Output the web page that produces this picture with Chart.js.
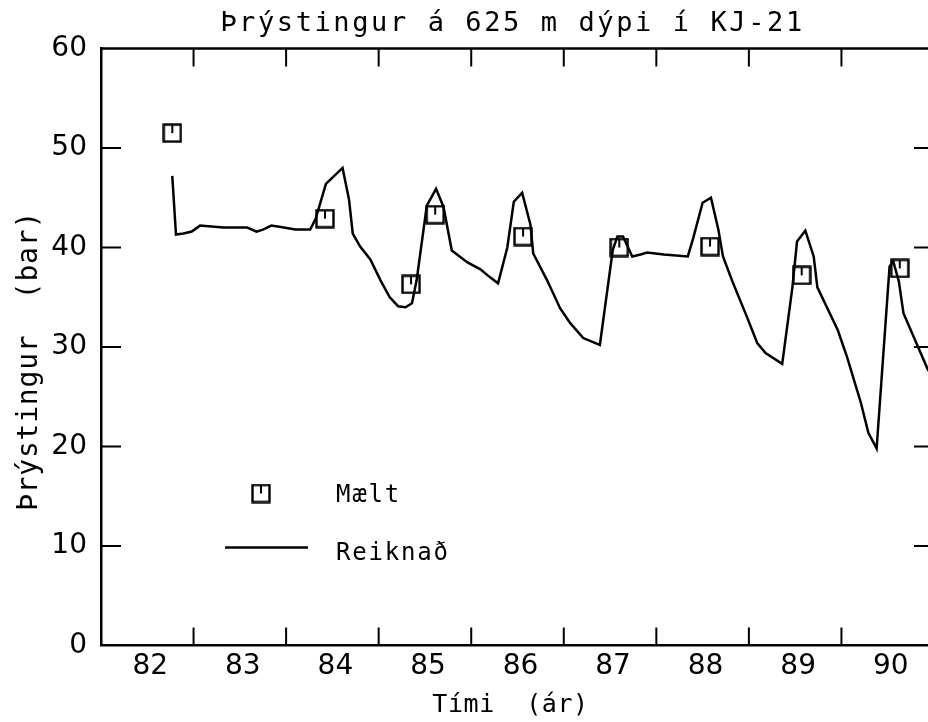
<!DOCTYPE html>
<html><head><meta charset="utf-8">
<script src="https://cdn.jsdelivr.net/npm/chart.js@4.4.0/dist/chart.umd.min.js"></script>
<style>html,body{margin:0;padding:0;overflow:hidden;background:#fff}canvas{display:block}</style>
</head><body>
<canvas id="c" width="928" height="722" style="width:928px;height:722px"></canvas>
<script>
const chartTitle = 'Þrýstingur á 625 m dýpi í KJ-21';
const xTitle = 'Tími  (ár)';
const yTitle = 'Þrýstingur  (bar)';
const seriesNames = ['Mælt', 'Reiknað'];
const yearLabels = ['82', '83', '84', '85', '86', '87', '88', '89', '90'];
const yearStarts = [82, 83, 84, 85, 86, 87, 88, 89, 90];
const yearBoundaries = [83, 84, 85, 86, 87, 88, 89, 90];
const yTickValues = [0, 10, 20, 30, 40, 50, 60];
const yTickLabels = ['0', '10', '20', '30', '40', '50', '60'];
const yMarkValues = [10, 20, 30, 40, 50];

const measYear = [82.77, 84.42, 85.35, 85.61, 86.56, 87.60, 88.58, 89.57, 90.63];
const measBar  = [51.5, 42.9, 36.3, 43.3, 41.1, 40.0, 40.1, 37.2, 37.9];

const calcYear = [82.77, 82.81, 82.89, 82.98, 83.07, 83.32, 83.58, 83.68, 83.75, 83.84, 83.91, 84.10, 84.26, 84.32, 84.43, 84.61, 84.68, 84.72, 84.80, 84.91, 85.02, 85.12, 85.21, 85.29, 85.36, 85.41, 85.52, 85.62, 85.70, 85.79, 85.96, 86.10, 86.19, 86.29, 86.39, 86.46, 86.55, 86.64, 86.67, 86.82, 86.96, 87.07, 87.21, 87.39, 87.53, 87.58, 87.64, 87.74, 87.83, 87.90, 88.08, 88.34, 88.40, 88.50, 88.59, 88.67, 88.72, 88.83, 88.98, 89.09, 89.18, 89.36, 89.47, 89.52, 89.61, 89.70, 89.74, 89.96, 90.06, 90.21, 90.29, 90.38, 90.52, 90.56, 90.62, 90.67, 90.94];
const calcBar  = [47.2, 41.3, 41.4, 41.6, 42.2, 42.0, 42.0, 41.6, 41.8, 42.2, 42.1, 41.8, 41.8, 42.9, 46.4, 48.0, 44.8, 41.4, 40.1, 38.8, 36.7, 35.0, 34.1, 34.0, 34.4, 36.7, 44.2, 45.9, 44.1, 39.7, 38.5, 37.8, 37.1, 36.4, 40.0, 44.6, 45.5, 42.3, 39.4, 36.7, 33.9, 32.4, 30.9, 30.2, 39.8, 41.1, 41.1, 39.1, 39.3, 39.5, 39.3, 39.1, 41.0, 44.5, 45.0, 41.8, 39.1, 36.4, 33.0, 30.4, 29.4, 28.3, 36.0, 40.6, 41.7, 39.1, 36.0, 31.7, 29.0, 24.4, 21.4, 19.8, 38.1, 38.6, 36.6, 33.4, 27.6];

const MONO = '"DejaVu Sans Mono", monospace';

// marker: hollow square with a small tick from the top edge
const marker = document.createElement('canvas');
marker.width = 20; marker.height = 20;
(function () {
  const m = marker.getContext('2d');
  m.strokeStyle = '#000'; m.lineWidth = 2.4;
  m.strokeRect(1.5, 1.5, 17, 17);
  m.lineWidth = 2;
  m.beginPath(); m.moveTo(10, 2); m.lineTo(10, 10); m.stroke();
})();

const framePlugin = {
  id: 'frame',
  afterLayout(chart) {
    // the plot frame continues 6px past the right edge of the picture
    const x = chart.scales.x, a = chart.chartArea;
    const right = chart.width + 6;
    x.right = right; x.width = right - x.left;
    a.right = right; a.width = right - a.left;
    x.configure();
  },
  afterDraw(chart) {
    const { ctx, chartArea: a, scales: { x, y } } = chart;
    const line = (x1, y1, x2, y2) => { ctx.beginPath(); ctx.moveTo(x1, y1); ctx.lineTo(x2, y2); ctx.stroke(); };
    ctx.save();
    ctx.strokeStyle = '#000';
    ctx.lineWidth = 2.5;
    ctx.beginPath(); ctx.moveTo(a.left, a.top); ctx.lineTo(a.right, a.top); ctx.lineTo(a.right, a.bottom); ctx.stroke();
    ctx.lineWidth = 2;
    yearBoundaries.forEach(v => {
      const px = x.getPixelForValue(v);
      line(px, a.bottom, px, a.bottom - 18);
      line(px, a.top, px, a.top + 18);
    });
    yMarkValues.forEach(v => {
      const py = y.getPixelForValue(v);
      line(a.left, py, a.left + 20, py);
      line(a.right, py, a.right - 20, py);
    });
    // legend
    ctx.drawImage(marker, a.left + 160 - 10, a.top + 445 - 10);
    ctx.lineWidth = 2.5;
    line(a.left + 124, a.top + 499, a.left + 207, a.top + 499);
    ctx.fillStyle = '#000';
    ctx.textAlign = 'left'; ctx.textBaseline = 'alphabetic';
    ctx.font = '24px ' + MONO;
    ctx.letterSpacing = '1.8px';
    ctx.fillText(seriesNames[0], a.left + 235, a.top + 453);
    ctx.fillText(seriesNames[1], a.left + 235, a.top + 511);
    // title
    ctx.textAlign = 'center';
    ctx.font = '27px ' + MONO;
    ctx.letterSpacing = '2.6px';
    ctx.fillText(chartTitle, (a.left + a.right) / 2 - 5, 31);
    // x title
    ctx.font = '25px ' + MONO;
    ctx.letterSpacing = '0.6px';
    ctx.fillText(xTitle, (a.left + a.right) / 2 - 7, 712);
    // y title
    ctx.translate(37, (a.top + a.bottom) / 2 + 14);
    ctx.rotate(-Math.PI / 2);
    ctx.font = '28px ' + MONO;
    ctx.letterSpacing = '0.8px';
    ctx.fillText(yTitle, 0, 0);
    ctx.restore();
  }
};

new Chart(document.getElementById('c'), {
  type: 'scatter',
  data: {
    datasets: [
      {
        label: seriesNames[0],
        data: measYear.map((v, i) => ({ x: v, y: measBar[i] })),
        showLine: false,
        pointStyle: marker,
        pointRadius: 10,
        order: 0
      },
      {
        label: seriesNames[1],
        data: calcYear.map((v, i) => ({ x: v, y: calcBar[i] })),
        showLine: true,
        borderColor: '#000',
        borderWidth: 2.5,
        pointRadius: 0,
        tension: 0,
        order: 1
      }
    ]
  },
  options: {
    responsive: false,
    animation: false,
    devicePixelRatio: 1,
    layout: { padding: { left: 0, right: 0, top: 48.5, bottom: 0 } },
    plugins: { legend: { display: false }, title: { display: false }, tooltip: { enabled: false } },
    scales: {
      x: {
        type: 'linear', min: 82, max: 91,
        grid: { display: false, drawTicks: false },
        border: { display: true, color: '#000', width: 2.5 },
        afterBuildTicks: s => { s.ticks = yearStarts.map(v => ({ value: v + 0.5 })); },
        afterFit: s => { s.height = 76.5; },
        ticks: {
          autoSkip: false, maxRotation: 0, padding: 4, labelOffset: 3, color: '#000',
          font: { family: '"DejaVu Sans", sans-serif', size: 28 },
          callback: (v, i) => yearLabels[i]
        }
      },
      y: {
        min: 0, max: 60,
        grid: { display: false, drawTicks: false },
        border: { display: true, color: '#000', width: 2.5 },
        afterBuildTicks: s => { s.ticks = yTickValues.map(v => ({ value: v })); },
        afterFit: s => { s.width = 101; },
        ticks: {
          padding: 14, color: '#000',
          font: { family: '"DejaVu Sans", sans-serif', size: 28 },
          callback: (v, i) => yTickLabels[i]
        }
      }
    }
  },
  plugins: [framePlugin]
});
</script>
</body></html>
